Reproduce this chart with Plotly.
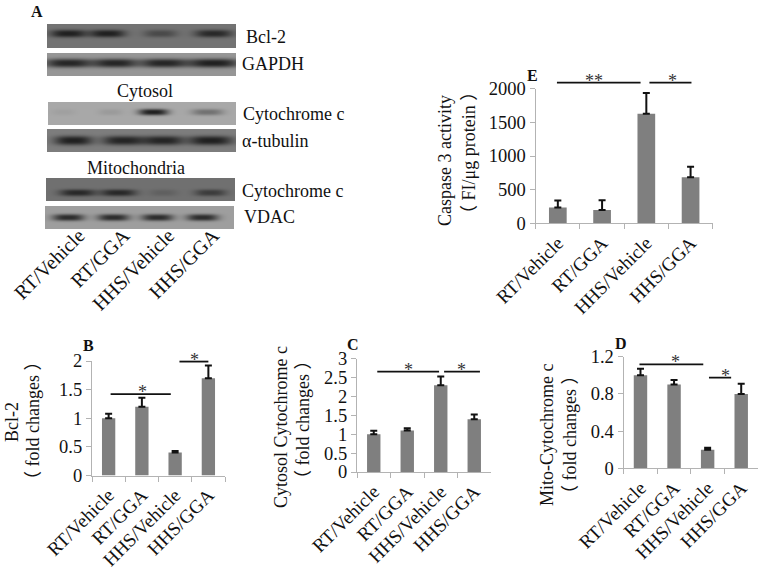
import numpy as np
import plotly.graph_objects as go

W, H = 763, 572
FONT = "Liberation Serif, Noto Sans CJK SC, serif"
categories = ["RT/Vehicle", "RT/GGA", "HHS/Vehicle", "HHS/GGA"]

bcl2_values = [1.0, 1.2, 0.4, 1.7]
bcl2_errors = [0.08, 0.16, 0.03, 0.22]
cyto_values = [1.0, 1.1, 2.3, 1.4]
cyto_errors = [0.09, 0.06, 0.23, 0.12]
mito_values = [1.0, 0.9, 0.2, 0.8]
mito_errors = [0.07, 0.05, 0.02, 0.11]
casp_values = [233, 198, 1629, 683]
casp_errors = [104, 144, 307, 159]

# blot strips: name, box px (x0,x1,y0,y1), background grey, band strength, lane centre, lane width, band row, thickness
blot_strips = [
    ("Bcl-2", (47, 236, 24, 48), 115, [1, 1, .5, .9], [68, 107, 160, 213], [36, 36, 34, 38], .38, 3.8),
    ("GAPDH", (47, 236, 53, 76), 150, [.95, .95, .95, 1], [68, 115, 163, 213], [48, 44, 46, 52], .42, 4.4),
    ("Cytosol cyt c", (48, 236, 102, 125), 168, [.06, .1, 1, .4], [63, 110, 153, 207], [24, 24, 30, 32], .42, 3.2),
    ("tubulin", (47, 236, 129, 152), 125, [1, .95, .95, 1], [73, 123, 163, 210], [38, 42, 40, 44], .48, 4.6),
    ("Mito cyt c", (46, 235, 178, 201), 112, [.9, .9, .2, .65], [77, 118, 163, 210], [36, 36, 28, 32], .62, 3.4),
    ("VDAC", (45, 234, 206, 229), 158, [.9, .9, .9, .9], [68, 113, 157, 202], [32, 32, 32, 32], .48, 3.4),
]

# chart panels
panels = [
    dict(v=bcl2_values, e=bcl2_errors, box=(92, 225, 361, 475.5), ymax=2, ticks=[0, .5, 1, 1.5, 2], ttext=["0", "0.5", "1", "1.5", "2"],
         lines=[(.06, 1.87, 1.42), (2.13, 3.0, 1.99)], stars=[(1.02, 1.42, "*"), (2.58, 1.99, "*")]),
    dict(v=cyto_values, e=cyto_errors, box=(357, 491, 358.7, 472), ymax=3, ticks=[0, .5, 1, 1.5, 2, 2.5, 3], ttext=["0", "0.5", "1", "1.5", "2", "2.5", "3"],
         lines=[(.105, 1.95, 2.66), (2.10, 3.17, 2.66)], stars=[(1.03, 2.66, "*"), (2.63, 2.66, "*")]),
    dict(v=mito_values, e=mito_errors, box=(623.7, 758, 356.7, 468.3), ymax=1.2, ticks=[0, .4, .8, 1.2], ttext=["0", "0.4", "0.8", "1.2"],
         lines=[(-.03, 1.87, 1.118), (2.04, 2.70, .975)], stars=[(1.04, 1.118, "*"), (2.54, .975, "*")]),
    dict(v=casp_values, e=casp_errors, box=(535.7, 712.7, 88.7, 223.3), ymax=2000, ticks=[0, 500, 1000, 1500, 2000], ttext=["0", "500", "1000", "1500", "2000"],
         lines=[(-.02, 1.87, 2089), (2.07, 3.02, 2089)], stars=[(.82, 2089, "**"), (2.59, 2089, "*")]),
]

# text placed at pixel positions: text, x, y, anchor
blot_labels = [
    ("Bcl-2", 244, 37, "left"), ("GAPDH", 240, 64, "left"), ("Cytosol", 145, 91, "center"),
    ("Cytochrome c", 241, 114, "left"), ("α-tubulin", 240, 141, "left"), ("Mitochondria", 136, 168, "center"),
    ("Cytochrome c", 240, 191, "left"), ("VDAC", 242, 217, "left"),
]
panel_letters = [("A", 37, 12), ("B", 88, 345), ("C", 353, 344), ("D", 621, 343), ("E", 532, 75)]
y_titles = [
    ("Bcl-2", 12, 422), ("（ fold changes ）", 33, 421),
    ("Cytosol Cytochrome c", 281, 427), ("（ fold changes ）", 303, 420),
    ("Mito-Cytochrome c", 547, 435), ("（ fold changes ）", 570, 435),
    ("Caspase 3 activity", 445, 160), ("（ FI/μg protein ）", 469, 153),
]

px = lambda x: x / W
py = lambda y: 1 - y / H

fig = go.Figure()
layout = dict(width=W, height=H, margin=dict(l=0, r=0, t=0, b=0, pad=0, autoexpand=False), autosize=False, paper_bgcolor="white",
              plot_bgcolor="rgba(0,0,0,0)", showlegend=False, bargap=.6,
              font=dict(family=FONT, size=18, color="#111"))
annotations, shapes = [], []
n = 0

def axis_pair():
    global n
    n += 1
    return n, f"x{n}", f"y{n}", f"xaxis{n}", f"yaxis{n}"

# blots
for name, (x0, x1, y0, y1), bg, strength, centres, widths, row, thick in blot_strips:
    i, xa, ya, xk, yk = axis_pair()
    xs = np.arange(x0, x1 + 1)
    ys = np.arange(y0, y1 + 1)
    z = np.full((len(ys), len(xs)), float(bg))
    mid = y0 + row * (y1 - y0)
    for s, c, w in zip(strength, centres, widths):
        band = np.outer(np.exp(-np.abs((ys - mid) / thick) ** 2.6), np.exp(-np.abs((xs - c) / (w / 2)) ** 3))
        z -= s * (bg - 32) * band
    fig.add_trace(go.Heatmap(x=xs, y=ys, z=z, xaxis=xa, yaxis=ya, zmin=0, zmax=255, showscale=False,
                             colorscale=[[0, "black"], [1, "white"]], hoverinfo="skip", zsmooth="best"))
    layout[xk] = dict(domain=[px(x0), px(x1)], range=[x0, x1], visible=False, anchor=ya)
    layout[yk] = dict(domain=[py(y1), py(y0)], range=[y1, y0], visible=False, anchor=xa)

# category labels under the blots
i, xa, ya, xk, yk = axis_pair()
fig.add_trace(go.Scatter(x=categories, y=[0, 0, 0, 0], mode="markers", marker=dict(opacity=0), xaxis=xa, yaxis=ya, hoverinfo="skip"))
layout[xk] = dict(domain=[px(56.6), px(235.4)], type="category", tickangle=-45, showline=False, ticks="", showgrid=False,
                  zeroline=False, anchor=ya, tickfont=dict(size=20, family=FONT, color="#111"), range=[-.5, 3.5])
layout[yk] = dict(domain=[py(219), py(215)], visible=False, anchor=xa)

# charts
GREY = "#b3b3b3"
for p in panels:
    i, xa, ya, xk, yk = axis_pair()
    bx0, bx1, by0, by1 = p["box"]
    fig.add_trace(go.Bar(x=categories, y=p["v"], xaxis=xa, yaxis=ya, marker=dict(color="#7f7f7f", line=dict(width=0)), hoverinfo="skip",
                         error_y=dict(type="data", array=p["e"], symmetric=False, arrayminus=[0] * 4, color="#111", thickness=2, width=3.5)))
    layout[xk] = dict(domain=[px(bx0), px(bx1)], type="category", tickson="boundaries", ticks="outside", ticklen=5, tickcolor=GREY, tickwidth=1.3,
                      showline=True, linecolor=GREY, linewidth=1.3, tickangle=-45, showgrid=False, zeroline=False, anchor=ya,
                      tickfont=dict(size=19, family=FONT, color="#111"), range=[-.5, 3.5])
    layout[yk] = dict(domain=[py(by1), py(by0)], range=[0, p["ymax"]], tickvals=p["ticks"], ticktext=p["ttext"], ticks="outside", ticklen=5,
                      tickcolor=GREY, tickwidth=1.3, showline=True, linecolor=GREY, linewidth=1.3, showgrid=False, zeroline=False, anchor=xa,
                      tickfont=dict(size=18.5, family=FONT, color="#111"))
    to_paper = lambda v: py(by1) + v / p["ymax"] * (py(by0) - py(by1))
    for a, b, v in p["lines"]:
        shapes.append(dict(type="line", xref=xa, yref="paper", x0=a, x1=b, y0=to_paper(v), y1=to_paper(v), line=dict(color="#111", width=1.8)))
    for cx, v, s in p["stars"]:
        annotations.append(dict(text=s, xref=xa, yref="paper", x=cx, y=to_paper(v), showarrow=False, yanchor="middle", yshift=2,
                                font=dict(size=18, family=FONT, color="#333")))

for t, x, y, anc in blot_labels:
    annotations.append(dict(text=t, xref="paper", yref="paper", x=px(x), y=py(y), xanchor=anc, yanchor="middle", showarrow=False,
                            font=dict(size=18, family=FONT, color="#111")))
for t, x, y in panel_letters:
    annotations.append(dict(text=f"<b>{t}</b>", xref="paper", yref="paper", x=px(x), y=py(y), xanchor="center", yanchor="middle", showarrow=False,
                            font=dict(size=16, family=FONT, color="#111")))
for t, x, y in y_titles:
    annotations.append(dict(text=t, xref="paper", yref="paper", x=px(x), y=py(y), xanchor="center", yanchor="middle", textangle=-90, showarrow=False,
                            font=dict(size=18, family=FONT, color="#111")))

layout["annotations"] = annotations
layout["shapes"] = shapes
fig.update_layout(**layout)
fig.write_html("out.html", config={"displayModeBar": False}, post_script="document.body.style.margin='0';")
